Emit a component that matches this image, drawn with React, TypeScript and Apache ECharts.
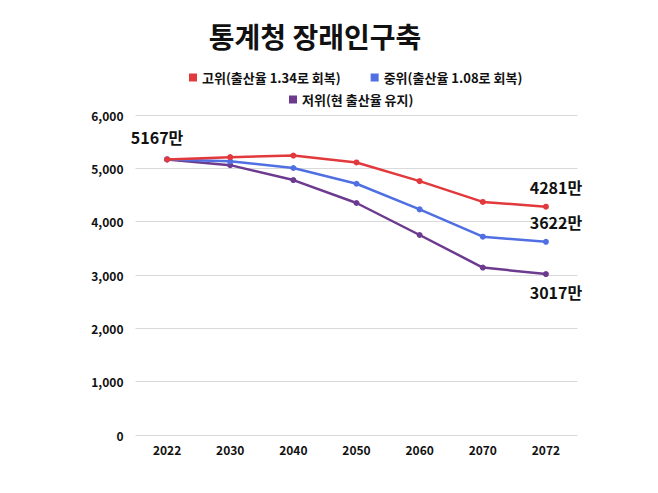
import React, { useEffect, useRef } from "react";
import * as echarts from "echarts";

const title = "통계청 장래인구축";
const years = ["2022", "2030", "2040", "2050", "2060", "2070", "2072"];
const seriesNames = ["고위(출산율 1.34로 회복)", "중위(출산율 1.08로 회복)", "저위(현 출산율 유지)"];
const highValues = [5167, 5210, 5240, 5110, 4760, 4370, 4281];
const midValues = [5167, 5131, 5006, 4711, 4230, 3718, 3622];
const lowValues = [5167, 5060, 4780, 4350, 3750, 3140, 3017];
const colors = ["#e23a3c", "#4f6fe3", "#6c3a8e"];
const font = "'Noto Sans CJK KR', 'Noto Sans', sans-serif";

export default function App() {
  const ref = useRef<HTMLDivElement>(null);
  useEffect(() => {
    if (!ref.current) return;
    const chart = echarts.init(ref.current, undefined, { renderer: "svg" });
    const labelStyle = { fontFamily: font, fontWeight: "bold" as const, fontSize: 16, color: "#111" };
    const mkData = (vals: number[], idx: number) =>
      vals.map((v, i) => {
        if (idx === 0 && i === 0) {
          return { value: v, label: { show: true, position: "top", offset: [-10, -6], formatter: `${v}만`, ...labelStyle } };
        }
        if (i === vals.length - 1) {
          const pos = idx === 2 ? "bottom" : "top";
          const off = idx === 2 ? [10, 2] : [10, -4];
          return { value: v, label: { show: true, position: pos, offset: off, formatter: `${v}만`, ...labelStyle } };
        }
        return v;
      });
    const vals = [highValues, midValues, lowValues];
    const legendText = { fontFamily: font, fontWeight: "bold" as const, fontSize: 13, color: "#111" };
    chart.setOption({
      animation: false,
      backgroundColor: "#ffffff",
      title: {
        text: title,
        left: 302,
        top: 9,
        textAlign: "center",
        textStyle: { fontFamily: font, fontWeight: "bold", fontSize: 28, color: "#111" },
      },
      legend: [
        {
          data: [seriesNames[0], seriesNames[1]],
          top: 58,
          left: 176,
          icon: "rect",
          itemWidth: 8,
          itemHeight: 8,
          itemGap: 30,
          textStyle: legendText,
        },
        {
          data: [seriesNames[2]],
          top: 80,
          left: 276,
          icon: "rect",
          itemWidth: 8,
          itemHeight: 8,
          textStyle: legendText,
        },
      ],
      grid: { left: 127.5, right: 72.5, top: 107, bottom: 50 },
      xAxis: {
        type: "category",
        data: years,
        boundaryGap: true,
        axisLine: { show: false },
        axisTick: { show: false },
        axisLabel: { fontFamily: font, fontWeight: "bold", fontSize: 12, color: "#111", margin: 8 },
      },
      yAxis: {
        type: "value",
        min: 0,
        max: 6000,
        interval: 1000,
        axisLine: { show: false },
        axisTick: { show: false },
        splitLine: { lineStyle: { color: "#d9d9d9", width: 1 } },
        axisLabel: {
          fontFamily: font,
          fontWeight: "bold",
          fontSize: 12,
          color: "#111",
          margin: 12,
          formatter: (v: number) => v.toLocaleString("en-US"),
        },
      },
      series: seriesNames.map((name, idx) => ({
        name,
        type: "line",
        data: mkData(vals[idx], idx),
        color: colors[idx],
        symbol: "circle",
        symbolSize: 6,
        lineStyle: { width: 2.5, color: colors[idx] },
        itemStyle: { color: colors[idx] },
        z: 3 - idx,
      })),
    });
    return () => chart.dispose();
  }, []);
  return <div ref={ref} style={{ width: 642, height: 477 }} />;
}
